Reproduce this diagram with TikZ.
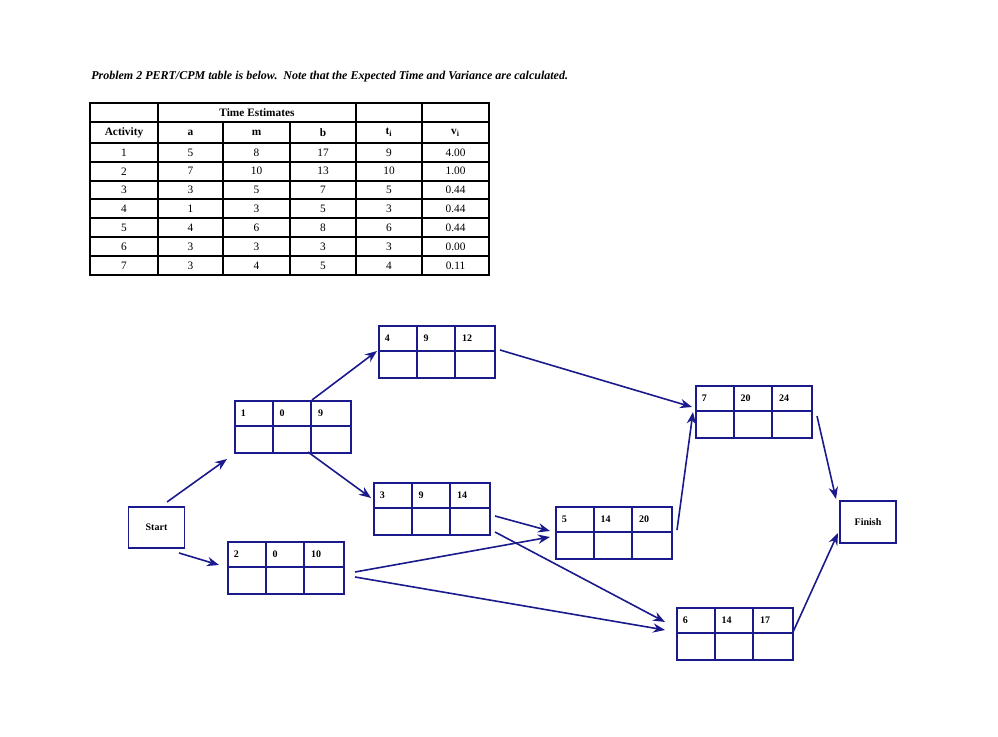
\documentclass[tikz,border=0pt]{standalone}
\usepackage{fontspec}
\setmainfont{Liberation Serif}
\usetikzlibrary{arrows.meta}
\definecolor{nv}{HTML}{1A1A8C}
\newcommand\pnode[6]{%
  \node[pbox,anchor=north west] (#1) at (#2,#3) {};
  \draw[nv,line width=1.3pt] (#2,#3+26) -- ++(116,0)
    (#2+38.7,#3) -- ++(0,52) (#2+77.3,#3) -- ++(0,52);
  \node[lab] (#1a) at (#2+4,#3+13) {#4};
  \node[lab] (#1b) at (#2+42.7,#3+13) {#5};
  \node[lab] (#1c) at (#2+81.3,#3+13) {#6};
}
\begin{document}
\begin{tikzpicture}[x=0.75pt,y=-0.75pt,
  pbox/.style={draw=nv,line width=1.3pt,minimum width=87pt,minimum height=39pt,inner sep=0},
  lab/.style={anchor=west,font=\bfseries\fontsize{7.5}{8}\selectfont,inner sep=2pt},
  ebox/.style={draw=nv,line width=1.3pt,minimum width=42pt,minimum height=31pt,font=\bfseries\fontsize{7.5}{8}\selectfont},
  arr/.style={nv,line width=1.2pt,-{Stealth[length=9pt,width=7pt]}},
  tc/.style={font=\fontsize{8.5}{9}\selectfont,inner sep=0},
  th/.style={font=\bfseries\fontsize{8.5}{9}\selectfont,inner sep=0}]
\useasboundingbox (0,0) rectangle (998,737);
\node[anchor=west,font=\bfseries\itshape\fontsize{9}{10}\selectfont,inner sep=0] (title) at (91,77)
  {Problem 2 PERT/CPM table is below.\ \ Note that the Expected Time and Variance are calculated.};
% table
\draw[line width=1.2pt] (90,103) rectangle (489,275);
\foreach \y in {122,143,162,181,199,218,237,256} \draw[line width=0.8pt] (90,\y) -- (489,\y);
\foreach \x in {158,356,422} \draw[line width=0.8pt] (\x,103) -- (\x,275);
\foreach \x in {223,290} \draw[line width=0.8pt] (\x,122) -- (\x,275);
\node[th] (te) at (257,112.5) {Time Estimates};
\node[th] (h0) at (124,132.5) {Activity};
\node[th] (h1) at (190.5,132.5) {a};
\node[th] (h2) at (256.5,132.5) {m};
\node[th] (h3) at (323,132.5) {b};
\node[th] (h4) at (389,132.5) {t\textsubscript{i}};
\node[th] (h5) at (455.5,132.5) {v\textsubscript{i}};
\foreach \r/\a/\b/\c/\t/\v [count=\i] in {1/5/8/17/9/4.00,2/7/10/13/10/1.00,3/3/5/7/5/0.44,4/1/3/5/3/0.44,5/4/6/8/6/0.44,6/3/3/3/3/0.00,7/3/4/5/4/0.11}{
  \pgfmathsetmacro\yy{143+(\i-0.5)*18.86}
  \node[tc] (r\i c0) at (124,\yy) {\r};
  \node[tc] (r\i c1) at (190.5,\yy) {\a};
  \node[tc] (r\i c2) at (256.5,\yy) {\b};
  \node[tc] (r\i c3) at (323,\yy) {\c};
  \node[tc] (r\i c4) at (389,\yy) {\t};
  \node[tc] (r\i c5) at (455.5,\yy) {\v};
}
% network
\pnode{n1}{234}{400}{1}{0}{9}
\pnode{n4}{378}{325}{4}{9}{12}
\pnode{n3}{373}{482}{3}{9}{14}
\pnode{n2}{227}{541}{2}{0}{10}
\pnode{n5}{555}{506}{5}{14}{20}
\pnode{n7}{695}{385}{7}{20}{24}
\pnode{n6}{676}{607}{6}{14}{17}
\node[ebox] (start) at (156.5,527.5) {Start};
\node[ebox] (finish) at (868,522) {Finish};
\foreach \n/\x/\y in {s1a/167/502,s1b/227/459,s2a/179/553,s2b/219/565,
  a14a/312/400,a14b/377/351,a13a/308/452,a13b/371/498,a47a/500/350,a47b/692/407,
  a35a/495/516,a35b/550/531,a36a/495/532,a36b/665/622,a25a/355/572,a25b/550/537,
  a26a/355/577,a26b/665/630,a57a/677/530,a57b/693/412,a7fa/817/416,a7fb/836/499,
  a6fa/793/632,a6fb/838/533}
  \coordinate (\n) at (\x,\y);
\foreach \p in {s1,s2,a14,a13,a47,a35,a36,a25,a26,a57,a7f,a6f}
  \draw[arr] (\p a) -- (\p b);
\end{tikzpicture}
\end{document}
